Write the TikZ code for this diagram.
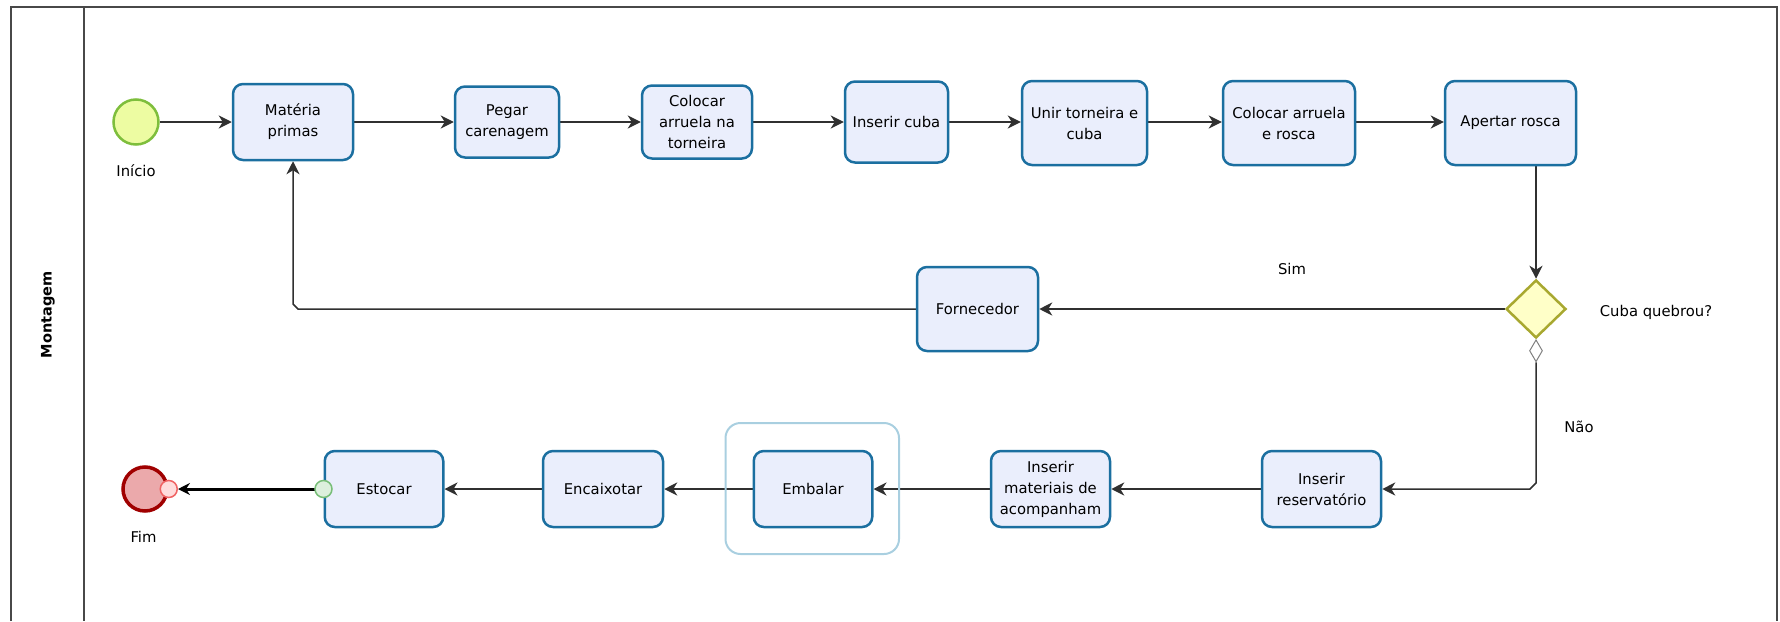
\documentclass[tikz,border=0pt]{standalone}
\usepackage{fontspec}
\setmainfont{DejaVu Sans}
\usetikzlibrary{shapes.geometric,arrows.meta,calc}
\pgfdeclarelayer{bg}
\pgfsetlayers{bg,main}
\definecolor{boxfill}{HTML}{EAEEFC}
\definecolor{boxline}{HTML}{1B6FA0}
\definecolor{flowc}{HTML}{303030}
\definecolor{framec}{HTML}{484848}
\definecolor{startfill}{HTML}{EDFCA2}
\definecolor{startline}{HTML}{7EBE3C}
\definecolor{endfill}{HTML}{EBA9AB}
\definecolor{endline}{HTML}{A00000}
\definecolor{pinkfill}{HTML}{FFDCDC}
\definecolor{pinkline}{HTML}{F06464}
\definecolor{greenfill}{HTML}{DDF0DD}
\definecolor{greenline}{HTML}{78BE78}
\definecolor{gwfill}{HTML}{FFFFC8}
\definecolor{gwline}{HTML}{A8A830}
\definecolor{groupline}{HTML}{A9CFE0}
\begin{document}
\begin{tikzpicture}[x=1pt,y=-1pt,
  font=\fontsize{14.8}{21}\selectfont,
  task/.style={draw=boxline, fill=boxfill, line width=2.5pt, rounded corners=10pt,
    align=center, inner sep=0pt, text=black},
  flow/.style={draw=flowc, line width=1.5pt, -{Stealth[length=13pt,width=13pt,inset=4pt]}},
  frame/.style={draw=framec, line width=1.5pt},
  lbl/.style={inner sep=0pt, text=black}]
\useasboundingbox (0,0) rectangle (1780,621);

% lane frame
\draw[frame] (11,621) -- (11,7) -- (1777,7) -- (1777,621);
\draw[frame] (84,7) -- (84,621);
\node[lbl, font=\bfseries\fontsize{14.5}{16}\selectfont, rotate=90] (lane) at (48,315) {Montagem};

% events
\node[circle, draw=startline, fill=startfill, line width=2.5pt, minimum size=45pt, inner sep=0pt] (start) at (136,122) {};
\node[lbl] (startlbl) at (136,171) {Início};

% row 1
\node[task, minimum width=120pt, minimum height=76pt] (mat) at (293,122) {Matéria\\primas};
\node[task, minimum width=104pt, minimum height=71pt] (peg) at (507,122) {Pegar\\carenagem};
\node[task, minimum width=110pt, minimum height=73pt] (col1) at (697,122) {Colocar\\arruela na\\torneira};
\node[task, minimum width=103pt, minimum height=81pt] (cuba) at (896.5,122) {Inserir cuba};
\node[task, minimum width=125pt, minimum height=84pt] (unir) at (1084.5,123) {Unir torneira e\\cuba};
\node[task, minimum width=132pt, minimum height=84pt] (col2) at (1289,123) {Colocar arruela\\e rosca};
\node[task, minimum width=131pt, minimum height=84pt] (apert) at (1510.5,123) {Apertar rosca};

% row 2
\node[diamond, draw=gwline, fill=gwfill, line width=2.5pt, minimum width=60pt, minimum height=58pt, inner sep=0pt] (gw) at (1536,309) {};
\node[lbl] (gwlbl) at (1656,312) {Cuba quebrou?};
\node[task, minimum width=121pt, minimum height=84pt] (forn) at (977.5,309) {Fornecedor};
\node[lbl] (sim) at (1292,269) {Sim};
\node[diamond, draw=gray, fill=white, line width=1pt, minimum width=13pt, minimum height=22pt, inner sep=0pt, anchor=north] (dflt) at (gw.south) {};
\node[lbl] (nao) at (1579,427) {Não};

% row 3
\draw[groupline, line width=2pt, rounded corners=15pt] (725.5,423) rectangle (899,554);
\node[task, minimum width=119pt, minimum height=76pt] (res) at (1321.5,489) {Inserir\\reservatório};
\node[task, minimum width=119pt, minimum height=76pt] (mats) at (1050.5,489) {Inserir\\materiais de\\acompanham};
\node[task, minimum width=118.5pt, minimum height=76pt] (emb) at (813,489) {Embalar};
\node[task, minimum width=120pt, minimum height=76pt] (enc) at (603,489) {Encaixotar};
\node[task, minimum width=118.5pt, minimum height=76pt] (est) at (384,489) {Estocar};
\node[circle, draw=greenline, fill=greenfill, line width=1.5pt, minimum size=17pt, inner sep=0pt] (gatt) at (est.west) {};
\node[circle, draw=endline, fill=endfill, line width=3.5pt, minimum size=44pt, inner sep=0pt] (fim) at (145,489) {};
\node[circle, draw=pinkline, fill=pinkfill, line width=1.5pt, minimum size=17pt, inner sep=0pt] (patt) at (fim.east) {};
\node[lbl] (fimlbl) at (143.5,537) {Fim};

% connectors
\begin{pgfonlayer}{bg}
\draw[flow] (start.east) -- (mat.west);
\draw[flow] (mat.east) -- (mat.east -| peg.west);
\draw[flow] (peg.east) -- (peg.east -| col1.west);
\draw[flow] (col1.east) -- (col1.east -| cuba.west);
\draw[flow] (cuba.east) -- (cuba.east -| unir.west);
\draw[flow] (unir.east |- cuba.east) -- (cuba.east -| col2.west);
\draw[flow] (col2.east |- cuba.east) -- (cuba.east -| apert.west);
\draw[flow] (apert.south -| gw.north) -- (gw.north);
\draw[flow] (gw.west) -- (forn.east);
\draw[flow] (forn.west) -- ($(mat.south |- forn.west)+(5,0)$) -- ($(mat.south |- forn.west)+(0,-5)$) -- (mat.south);
\draw[flow] (dflt.south) -- ($(dflt.south |- res.east)+(0,-6)$) -- ($(dflt.south |- res.east)+(-6,0)$) -- (res.east);
\draw[flow] (res.west) -- (mats.east);
\draw[flow] (mats.west) -- (emb.east);
\draw[flow] (emb.west) -- (enc.east);
\draw[flow] (enc.west) -- (est.east);
\draw[draw=black, line width=3pt, -{Stealth[length=12pt,width=12pt,inset=4pt]}] (gatt.center) -- (patt.east);
\end{pgfonlayer}
\end{tikzpicture}
\end{document}
